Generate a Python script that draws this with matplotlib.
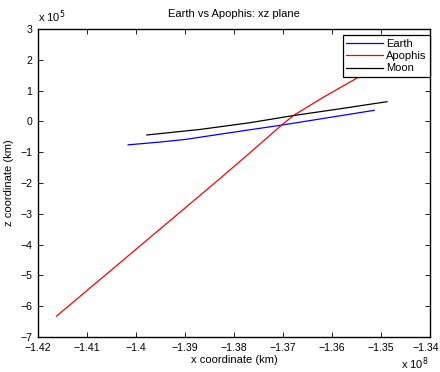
import matplotlib
matplotlib.use('Agg')
import matplotlib.pyplot as plt
import numpy as np
from matplotlib.ticker import FuncFormatter
from matplotlib.transforms import ScaledTranslation

plt.rcParams['font.family'] = ['Liberation Sans', 'DejaVu Sans']
plt.rcParams['font.size'] = 8

# trajectories, km
earth_x = [-1.4016e8, -1.3951e8, -1.3897e8, -1.3839e8, -1.3767e8, -1.3703e8, -1.3514e8]
earth_z = [-0.76e5, -0.67e5, -0.58e5, -0.44e5, -0.27e5, -0.12e5, 0.36e5]

apophis_x = [-1.4162e8, -1.3997e8, -1.3832e8, -1.3767e8, -1.3703e8, -1.3679e8,
             -1.3614e8, -1.3550e8, -1.3510e8]
apophis_z = [-6.32e5, -4.11e5, -1.90e5, -1.01e5, -0.12e5, 0.19e5,
             0.82e5, 1.40e5, 1.74e5]

moon_x = [-1.3978e8, -1.3869e8, -1.3767e8, -1.3679e8, -1.3584e8, -1.3488e8]
moon_z = [-0.44e5, -0.26e5, -0.04e5, 0.19e5, 0.41e5, 0.64e5]

x_ticks = np.linspace(-1.42e8, -1.34e8, 9)
z_ticks = np.linspace(-7e5, 3e5, 11)

fig = plt.figure(figsize=(4.4, 3.72), dpi=100)
ax = fig.add_axes([0.0864, 0.094, 0.891, 0.828])

ax.plot(earth_x, earth_z, color='b', lw=0.9, label='Earth')
ax.plot(apophis_x, apophis_z, color='r', lw=0.9, label='Apophis')
ax.plot(moon_x, moon_z, color='k', lw=0.9, label='Moon')

ax.set_xlim(-1.42e8, -1.34e8)
ax.set_ylim(-7e5, 3e5)
ax.set_xticks(x_ticks)
ax.set_yticks(z_ticks)


def fmt(scale):
    def f(v, pos):
        s = f"{v / scale:.2f}".rstrip('0').rstrip('.')
        if s in ('-0', ''):
            s = '0'
        return s.replace('-', '\u2212')
    return f


ax.xaxis.set_major_formatter(FuncFormatter(fmt(1e8)))
ax.yaxis.set_major_formatter(FuncFormatter(fmt(1e5)))

ax.tick_params(direction='in', top=True, right=True, length=3.5, width=0.6, labelsize=7.6)
ax.tick_params(axis='x', pad=4)
ax.tick_params(axis='y', pad=4)
for sp in ax.spines.values():
    sp.set_linewidth(1.0)

ax.set_title('Earth vs Apophis: xz plane', fontsize=8, pad=9)
ax.set_xlabel('x coordinate (km)', fontsize=8, labelpad=2)
ax.set_ylabel('z coordinate (km)', fontsize=8, labelpad=5)

ax.text(0.0, 1.012, r'x 10$^5$', transform=ax.transAxes, fontsize=8, ha='left', va='bottom')
ax.text(0.995, -0.06, r'x 10$^8$', transform=ax.transAxes, fontsize=8, ha='right', va='top')

leg = ax.legend(loc='upper right', bbox_to_anchor=(1.0, 0.98), fontsize=8, fancybox=False,
                framealpha=1, edgecolor='k', borderaxespad=0, handlelength=3.3,
                handletextpad=0.3, labelspacing=0.22, borderpad=0.3)
leg.get_frame().set_linewidth(0.9)

# keep the last x tick label inside the figure
fig.canvas.draw()
last = ax.xaxis.get_major_ticks()[-1].label1
last.set_transform(last.get_transform() + ScaledTranslation(-0.045, 0, fig.dpi_scale_trans))

fig.savefig('out.png', dpi=100)
